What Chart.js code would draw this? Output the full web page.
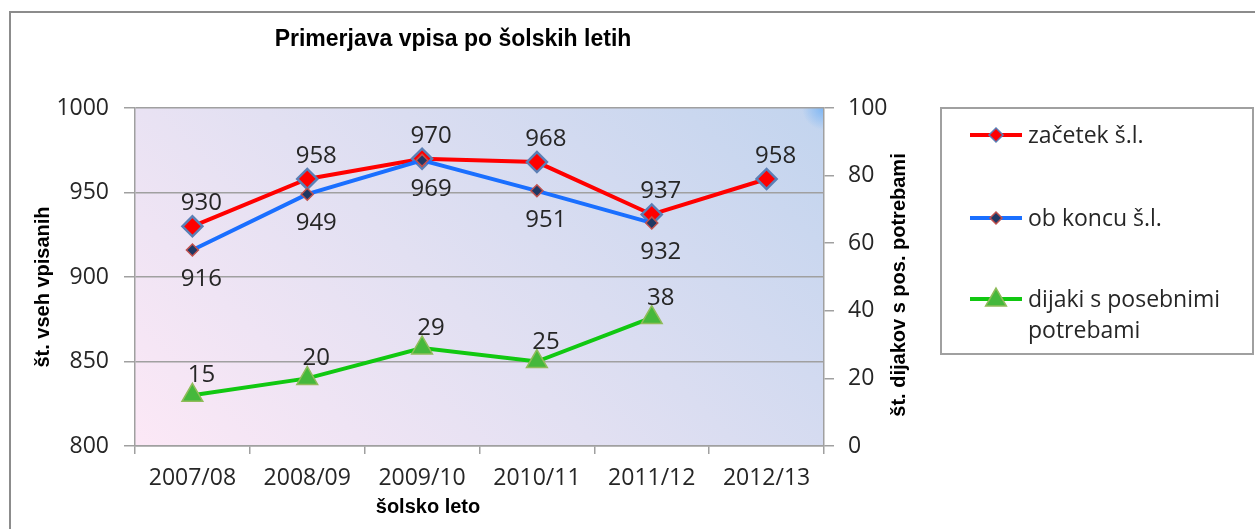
<!DOCTYPE html>
<html>
<head>
<meta charset="utf-8">
<script src="https://cdn.jsdelivr.net/npm/chart.js@4/dist/chart.umd.min.js"></script>
<style>
  html, body { margin: 0; padding: 0; background: #fff; }
  #wrap { position: relative; width: 1255px; height: 529px; overflow: hidden; }
</style>
</head>
<body>
<div id="wrap"><canvas id="vpis" width="1255" height="529"></canvas></div>
<script>
// Data
const years = ['2007/08', '2008/09', '2009/10', '2010/11', '2011/12', '2012/13'];
const zacetek = [930, 958, 970, 968, 937, 958];
const obKoncu = [916, 949, 969, 951, 932, null];
const dijakiPP = [15, 20, 29, 25, 38, null];
const leftTicks = [800, 850, 900, 950, 1000];
const rightTicks = [0, 20, 40, 60, 80, 100];

const $ = (id) => document.getElementById(id);
const TXT = '#262626';
const GRID = '#a0a0a0';
const NUM_FONT = '"Open Sans", "Noto Sans", sans-serif';
const BOLD_FONT = '"Liberation Sans", Arial, sans-serif';

// simple marker shapes for the hand-drawn legend
function diamond(ctx, x, y, r, fill, stroke, lw) {
  ctx.beginPath();
  ctx.moveTo(x, y - r); ctx.lineTo(x + r, y); ctx.lineTo(x, y + r); ctx.lineTo(x - r, y);
  ctx.closePath();
  ctx.fillStyle = fill; ctx.fill();
  ctx.lineWidth = lw; ctx.strokeStyle = stroke; ctx.stroke();
}
function triangle(ctx, x, y, r, fill, stroke, lw) {
  ctx.beginPath();
  ctx.moveTo(x, y - r);
  ctx.lineTo(x + r * 0.866, y + r * 0.5);
  ctx.lineTo(x - r * 0.866, y + r * 0.5);
  ctx.closePath();
  ctx.fillStyle = fill; ctx.fill();
  ctx.lineWidth = lw; ctx.strokeStyle = stroke; ctx.stroke();
}

// background of plot area + outer frame
const backdrop = {
  id: 'backdrop',
  beforeDraw(chart) {
    const { ctx, chartArea: a } = chart;
    ctx.save();
    ctx.strokeStyle = '#8c8c8c';
    ctx.lineWidth = 2;
    ctx.strokeRect(10, 12, 1260, 540);
    const w = a.right - a.left, h = a.bottom - a.top;
    const d = (w + h) / 2;
    const g = ctx.createLinearGradient(a.left, a.bottom, a.left + d, a.bottom - d);
    g.addColorStop(0, '#fce8f6');
    g.addColorStop(0.45, '#e2e0f2');
    g.addColorStop(1, '#c2d4ee');
    ctx.fillStyle = g;
    ctx.fillRect(a.left, a.top, w, h);
    // small bright glint in the top-right corner
    const rg = ctx.createRadialGradient(a.right, a.top, 0, a.right, a.top, 22);
    rg.addColorStop(0, 'rgba(120,180,245,0.95)');
    rg.addColorStop(1, 'rgba(120,180,245,0)');
    ctx.fillStyle = rg;
    ctx.fillRect(a.right - 22, a.top, 22, 22);
    ctx.restore();
  }
};

// value labels, titles and legend
const decor = {
  id: 'decor',
  afterDatasetsDraw(chart) {
    const ctx = chart.ctx;
    ctx.save();
    ctx.font = '24px ' + NUM_FONT;
    ctx.fillStyle = TXT;
    ctx.textAlign = 'center';
    ctx.textBaseline = 'alphabetic';
    chart.data.datasets.forEach((ds, i) => {
      const meta = chart.getDatasetMeta(i);
      meta.data.forEach((pt, j) => {
        const v = ds.data[j];
        if (v == null) return;
        ctx.fillText(String(v), pt.x + 9, pt.y + ds.labelDy + 8);
      });
    });
    ctx.restore();
  },
  afterDraw(chart) {
    const ctx = chart.ctx;
    ctx.save();
    ctx.fillStyle = '#000';
    ctx.textAlign = 'center';
    ctx.textBaseline = 'middle';
    ctx.font = 'bold 23px ' + BOLD_FONT;
    ctx.fillText('Primerjava vpisa po šolskih letih', 453, 40);

    ctx.font = 'bold 20px ' + BOLD_FONT;
    ctx.fillText('šolsko leto', 428, 507);

    ctx.save();
    ctx.translate(43, 287);
    ctx.rotate(-Math.PI / 2);
    ctx.fillText('št. vseh vpisanih', 0, 0);
    ctx.restore();

    ctx.save();
    ctx.translate(899, 285);
    ctx.rotate(-Math.PI / 2);
    ctx.fillText('št. dijakov s pos. potrebami', 0, 0);
    ctx.restore();

    // legend box
    ctx.strokeStyle = GRID;
    ctx.lineWidth = 2;
    ctx.strokeRect(941, 108, 312, 246);
    const rows = [
      { y: 135, color: '#ff0000', lines: ['začetek š.l.'], mark: (x, y) => diamond(ctx, x, y, 7, '#ff0000', '#5b7fb5', 1.5) },
      { y: 218, color: '#1a6fff', lines: ['ob koncu š.l.'], mark: (x, y) => diamond(ctx, x, y, 6, '#1f3864', '#c0504d', 1.5) },
      { y: 299, color: '#11c811', lines: ['dijaki s posebnimi', 'potrebami'], mark: (x, y) => triangle(ctx, x, y + 1, 12, '#45b83c', '#8fbc5a', 1.5) }
    ];
    ctx.font = '23px ' + NUM_FONT;
    ctx.textAlign = 'left';
    ctx.textBaseline = 'alphabetic';
    rows.forEach(r => {
      ctx.beginPath();
      ctx.moveTo(970, r.y); ctx.lineTo(1022, r.y);
      ctx.strokeStyle = r.color; ctx.lineWidth = 4; ctx.stroke();
      r.mark(996, r.y);
      ctx.fillStyle = TXT;
      r.lines.forEach((t, k) => ctx.fillText(t, 1028, r.y + 8 + k * 31));
    });
    ctx.restore();
  }
};

new Chart($('vpis'), {
  type: 'line',
  data: {
    labels: years,
    datasets: [
      {
        label: 'začetek š.l.',
        data: zacetek,
        yAxisID: 'y',
        borderColor: '#ff0000',
        borderWidth: 4,
        pointStyle: 'rectRot',
        pointRadius: 10,
        pointBackgroundColor: '#ff0000',
        pointBorderColor: '#5b7fb5',
        pointBorderWidth: 2.5,
        labelDy: -24,
        order: 3
      },
      {
        label: 'ob koncu š.l.',
        data: obKoncu,
        yAxisID: 'y',
        borderColor: '#1a6fff',
        borderWidth: 4,
        pointStyle: 'rectRot',
        pointRadius: 6,
        pointBackgroundColor: '#1f3864',
        pointBorderColor: '#c0504d',
        pointBorderWidth: 1.5,
        labelDy: 28,
        order: 2
      },
      {
        label: 'dijaki s posebnimi potrebami',
        data: dijakiPP,
        yAxisID: 'y2',
        borderColor: '#11c811',
        borderWidth: 4,
        pointStyle: 'triangle',
        pointRadius: 12,
        pointBackgroundColor: '#45b83c',
        pointBorderColor: '#8fbc5a',
        pointBorderWidth: 1.5,
        labelDy: -21,
        order: 1
      }
    ]
  },
  options: {
    responsive: false,
    animation: false,
    devicePixelRatio: 1,
    spanGaps: false,
    layout: { padding: { left: 10, right: 331, top: 108, bottom: 0 } },
    plugins: {
      legend: { display: false },
      title: { display: false },
      tooltip: { enabled: false }
    },
    elements: { line: { tension: 0 } },
    scales: {
      x: {
        offset: true,
        grid: { offset: true, drawOnChartArea: false, tickLength: 8, color: GRID, lineWidth: 1.5 },
        border: { color: GRID, width: 1.5 },
        ticks: { color: TXT, font: { family: NUM_FONT, size: 23 }, padding: 11, maxRotation: 0 },
        afterFit: (s) => { s.height = 83; }
      },
      y: {
        position: 'left',
        min: 800,
        max: 1000,
        afterBuildTicks: (s) => { s.ticks = leftTicks.map(v => ({ value: v })); },
        grid: { color: GRID, lineWidth: 1.5, tickLength: 11 },
        border: { color: GRID, width: 1.5 },
        ticks: { color: TXT, font: { family: NUM_FONT, size: 23 }, padding: 15, callback: (v) => String(v) },
        afterFit: (s) => { s.width = 125; }
      },
      y2: {
        position: 'right',
        min: 0,
        max: 100,
        afterBuildTicks: (s) => { s.ticks = rightTicks.map(v => ({ value: v })); },
        grid: { drawOnChartArea: false, color: GRID, lineWidth: 1.5, tickLength: 10 },
        border: { color: GRID, width: 1.5 },
        ticks: { color: TXT, font: { family: NUM_FONT, size: 23 }, padding: 14, callback: (v) => String(v) },
        afterFit: (s) => { s.width = 100; }
      }
    }
  },
  plugins: [backdrop, decor]
});
</script>
</body>
</html>
